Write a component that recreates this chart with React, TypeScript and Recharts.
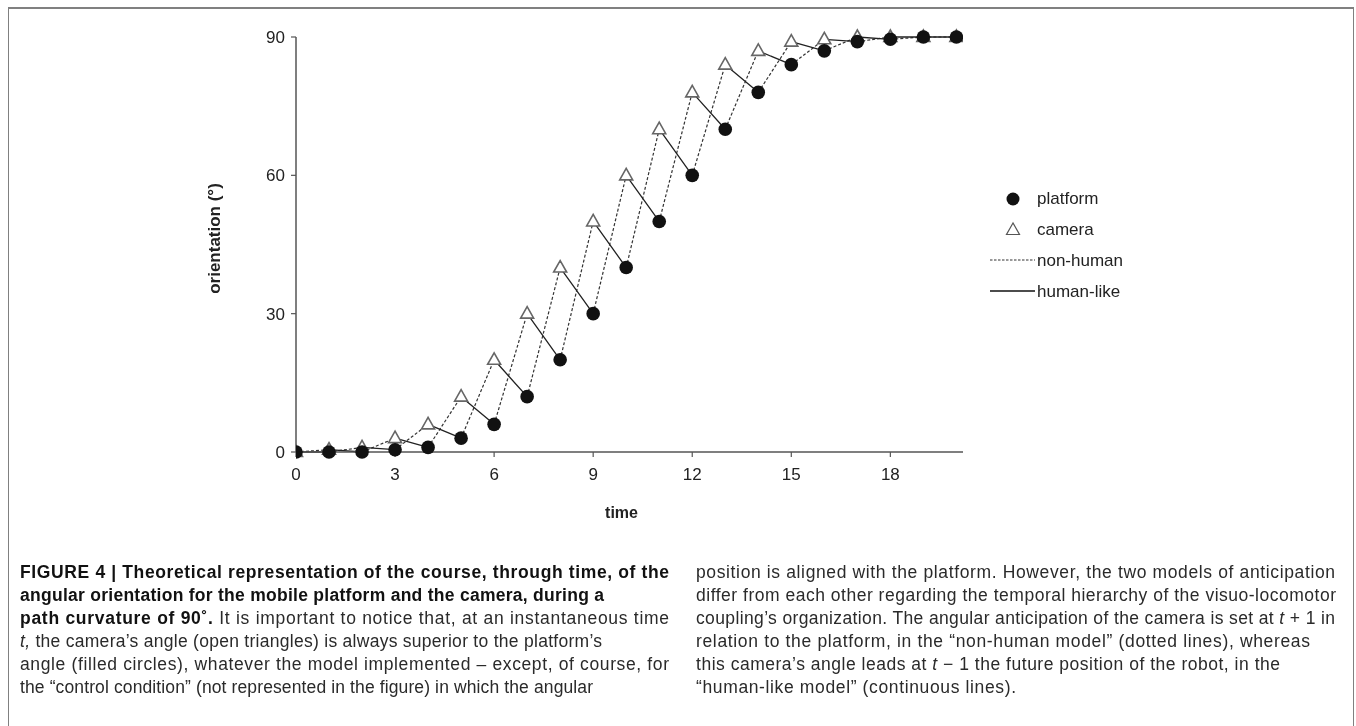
import React from "react";
import { ComposedChart, Line, XAxis, YAxis } from "recharts";

// time steps and angles (deg)
const TIME = [0, 1, 2, 3, 4, 5, 6, 7, 8, 9, 10, 11, 12, 13, 14, 15, 16, 17, 18, 19, 20];
const PLATFORM = [0, 0, 0, 0.5, 1, 3, 6, 12, 20, 30, 40, 50, 60, 70, 78, 84, 87, 89, 89.5, 90, 90];
const CAMERA = [0, 0.5, 1, 3, 6, 12, 20, 30, 40, 50, 60, 70, 78, 84, 87, 89, 89.5, 90, 90, 90, 90];

const X_TICKS = [0, 3, 6, 9, 12, 15, 18];
const Y_TICKS = [0, 30, 60, 90];

const LEGEND_LABELS = ["platform", "camera", "non-human", "human-like"];

const FONT = "Arial, 'Liberation Sans', Helvetica, sans-serif";
const AXIS = "#555";
const INK = "#222";

type Pt = { t: number; v: number | null };

const platformPts: Pt[] = TIME.map((t, i) => ({ t, v: PLATFORM[i] }));
const cameraPts: Pt[] = TIME.map((t, i) => ({ t, v: CAMERA[i] }));

// non-human: platform(t) -> camera(t+1); human-like: camera(t) -> platform(t+1)
const nonHuman: Pt[] = [];
const humanLike: Pt[] = [];
for (let i = 0; i < TIME.length - 1; i++) {
  nonHuman.push({ t: TIME[i], v: PLATFORM[i] }, { t: TIME[i + 1], v: CAMERA[i + 1] }, { t: TIME[i + 1], v: null });
  humanLike.push({ t: TIME[i], v: CAMERA[i] }, { t: TIME[i + 1], v: PLATFORM[i + 1] }, { t: TIME[i + 1], v: null });
}

const dotCircle = (p: any) =>
  p.cx == null || p.cy == null ? null : (
    <circle key={`c-${p.index}`} cx={p.cx} cy={p.cy} r={6.8} fill="#111" />
  );

const triPoints = (cx: number, cy: number) =>
  `${cx},${cy - 7} ${cx - 6.5},${cy + 4.5} ${cx + 6.5},${cy + 4.5}`;

const dotTriangle = (p: any) =>
  p.cx == null || p.cy == null ? null : (
    <polygon key={`t-${p.index}`} points={triPoints(p.cx, p.cy)} fill="#fff" stroke="#666" strokeWidth={1.6} />
  );

type Span = { s: string; b?: boolean; i?: boolean };
type CapLine = { spans: Span[]; w: number };

const CAPTION_LEFT: CapLine[] = [
  { spans: [{ s: "FIGURE 4 | Theoretical representation of the course, through time, of the", b: true }], w: 649 },
  { spans: [{ s: "angular orientation for the mobile platform and the camera, during a", b: true }], w: 584 },
  {
    spans: [
      { s: "path curvature of 90˚.", b: true },
      { s: " It is important to notice that, at an instantaneous time" },
    ],
    w: 649,
  },
  {
    spans: [
      { s: "t,", i: true },
      { s: " the camera’s angle (open triangles) is always superior to the platform’s" },
    ],
    w: 582,
  },
  { spans: [{ s: "angle (filled circles), whatever the model implemented – except, of course, for" }], w: 649 },
  { spans: [{ s: "the “control condition” (not represented in the figure) in which the angular" }], w: 573 },
];

const CAPTION_RIGHT: CapLine[] = [
  { spans: [{ s: "position is aligned with the platform. However, the two models of anticipation" }], w: 639 },
  { spans: [{ s: "differ from each other regarding the temporal hierarchy of the visuo-locomotor" }], w: 640 },
  {
    spans: [
      { s: "coupling’s organization. The angular anticipation of the camera is set at " },
      { s: "t", i: true },
      { s: " + 1 in" },
    ],
    w: 639,
  },
  { spans: [{ s: "relation to the platform, in the “non-human model” (dotted lines), whereas" }], w: 614 },
  {
    spans: [
      { s: "this camera’s angle leads at " },
      { s: "t", i: true },
      { s: " − 1 the future position of the robot, in the" },
    ],
    w: 584,
  },
  { spans: [{ s: "“human-like model” (continuous lines)." }], w: 320 },
];

const CAP_BASELINES = [570, 593, 616, 639, 662, 685];

function CaptionColumn({ lines, x }: { lines: CapLine[]; x: number }) {
  return (
    <>
      {lines.map((ln, k) => (
        <text
          key={k}
          x={x}
          y={CAP_BASELINES[k]}
          textLength={ln.w}
          lengthAdjust="spacing"
          fontSize={17.5}
          fontFamily={FONT}
          fill="#2a2a2a"
        >
          {ln.spans.map((sp, j) => (
            <tspan key={j} fontWeight={sp.b ? 700 : 400} fontStyle={sp.i ? "italic" : "normal"} fill={sp.b ? "#111" : "#2a2a2a"}>
              {sp.s}
            </tspan>
          ))}
        </text>
      ))}
    </>
  );
}

function ChartLegend() {
  const rows = [196, 227, 258, 289];
  return (
    <svg width={200} height={320} style={{ position: "absolute", left: 960, top: 0, overflow: "visible" }}>
      <g transform="translate(-960,0)">
        <circle cx={1005} cy={191} r={6.5} fill="#111" />
        <polygon points={triPoints(1005, 222)} fill="#fff" stroke="#555" strokeWidth={1.2} />
        <line x1={982} x2={1027} y1={252} y2={252} stroke="#333" strokeWidth={1.2} strokeDasharray="2.5 1.5" />
        <line x1={982} x2={1027} y1={283} y2={283} stroke="#111" strokeWidth={1.3} />
        {LEGEND_LABELS.map((lab, i) => (
          <text key={lab} x={1029} y={rows[i]} fontSize={17} fontFamily={FONT} fill={INK}>
            {lab}
          </text>
        ))}
      </g>
    </svg>
  );
}

export default function App() {
  return (
    <div style={{ position: "relative", width: 1340, height: 700, fontFamily: FONT }}>
      <div
        style={{
          position: "fixed",
          left: 8,
          top: 7,
          width: 1346,
          height: 760,
          boxSizing: "border-box",
          border: "1px solid #808080",
          borderTopWidth: 2,
          pointerEvents: "none",
        }}
      />
      <div style={{ position: "absolute", left: 0, top: 0 }}>
        <ComposedChart width={1100} height={540} margin={{ top: 29, right: 145, bottom: 56, left: 228 }}>
          <XAxis
            type="number"
            dataKey="t"
            domain={[0, 20.2]}
            allowDataOverflow
            ticks={X_TICKS}
            height={40}
            tickSize={5}
            tickMargin={11}
            axisLine={{ stroke: AXIS, strokeWidth: 1.5 }}
            tickLine={{ stroke: AXIS, strokeWidth: 1.2 }}
            tick={{ fill: INK, fontSize: 17, fontFamily: FONT }}
            label={{ value: "time", position: "bottom", offset: 15, dx: -8, fill: INK, fontSize: 16, fontWeight: 700, fontFamily: FONT }}
          />
          <YAxis
            type="number"
            domain={[0, 90]}
            ticks={Y_TICKS}
            width={60}
            tickSize={5}
            tickMargin={6}
            axisLine={{ stroke: AXIS, strokeWidth: 1.5 }}
            tickLine={{ stroke: AXIS, strokeWidth: 1.2 }}
            tick={{ fill: INK, fontSize: 17, fontFamily: FONT }}
            label={{
              value: "orientation (°)",
              angle: -90,
              position: "left",
              offset: 22,
              dy: -6,
              fill: INK,
              fontSize: 17,
              fontWeight: 700,
              fontFamily: FONT,
              style: { textAnchor: "middle" },
            }}
          />
          <Line
            data={nonHuman}
            dataKey="v"
            stroke="#333"
            strokeWidth={1.2}
            strokeDasharray="3 2"
            dot={false}
            activeDot={false}
            connectNulls={false}
            isAnimationActive={false}
          />
          <Line
            data={humanLike}
            dataKey="v"
            stroke="#222"
            strokeWidth={1.3}
            dot={false}
            activeDot={false}
            connectNulls={false}
            isAnimationActive={false}
          />
          <Line data={cameraPts} dataKey="v" stroke="none" dot={dotTriangle} activeDot={false} isAnimationActive={false} />
          <Line data={platformPts} dataKey="v" stroke="none" dot={dotCircle} activeDot={false} isAnimationActive={false} />
        </ComposedChart>
      </div>
      <ChartLegend />
      <svg width={1340} height={700} style={{ position: "absolute", left: 0, top: 0, pointerEvents: "none" }}>
        <CaptionColumn lines={CAPTION_LEFT} x={12} />
        <CaptionColumn lines={CAPTION_RIGHT} x={688} />
      </svg>
    </div>
  );
}
